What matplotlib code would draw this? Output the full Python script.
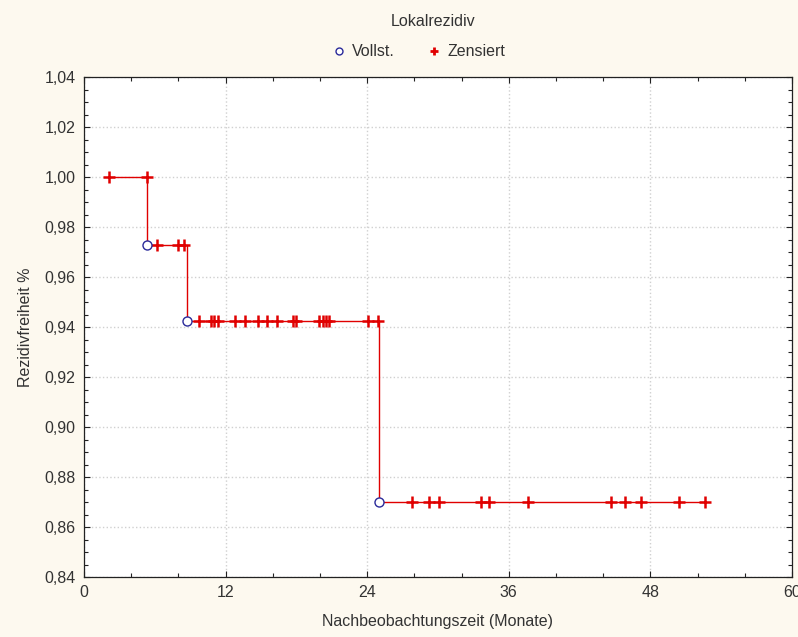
import numpy as np
import matplotlib
matplotlib.use('Agg')
import matplotlib.pyplot as plt
from matplotlib.lines import Line2D
from matplotlib.ticker import MultipleLocator, FuncFormatter

plt.rcParams['font.family'] = ['Liberation Sans', 'DejaVu Sans']

# Kaplan-Meier Stufen (Monate, Rezidivfreiheit)
step_times = [2.12, 5.36, 8.7, 25.0, 52.63]
step_surv = [1.0, 0.973, 0.9426, 0.870, 0.870]

# vollstaendige Beobachtungen (Ereignisse)
event_times = [5.36, 8.7, 25.0]
event_surv = [0.973, 0.9426, 0.870]

# zensierte Beobachtungen
cens_times = [2.12, 5.36,
              6.21, 7.94, 8.50,
              9.77, 10.76, 11.04, 11.33, 12.80, 13.64, 14.77, 15.48, 16.33,
              17.67, 17.97, 19.94, 20.23, 20.51, 20.79, 24.09, 24.89,
              27.77, 29.24, 30.11, 33.62, 34.35, 37.65, 44.64, 45.85, 47.2,
              50.45, 52.63]
cens_surv = [1.0, 1.0,
             0.973, 0.973, 0.973,
             0.9426, 0.9426, 0.9426, 0.9426, 0.9426, 0.9426, 0.9426, 0.9426, 0.9426,
             0.9426, 0.9426, 0.9426, 0.9426, 0.9426, 0.9426, 0.9426, 0.9426,
             0.870, 0.870, 0.870, 0.870, 0.870, 0.870, 0.870, 0.870, 0.870,
             0.870, 0.870]

red = '#e00000'
blue = '#2a2a9a'
bg = '#fdf9ef'

fig = plt.figure(figsize=(7.98, 6.37), dpi=100, facecolor=bg)
ax = fig.add_axes([84/798, 1-577/637, (792-84)/798, (577-77)/637])
ax.set_facecolor('white')

ax.step(step_times, step_surv, where='post', color=red, lw=1.0, zorder=3)
ax.plot(cens_times, cens_surv, '+', color=red, ms=9, mew=1.8, zorder=4, ls='none')
ax.plot(event_times, event_surv, 'o', mfc='white', mec=blue, ms=6.5, mew=1.0, zorder=5, ls='none')

ax.set_xlim(0, 60)
ax.set_ylim(0.84, 1.04)
ax.xaxis.set_major_locator(MultipleLocator(12))
ax.xaxis.set_minor_locator(MultipleLocator(4))
ax.yaxis.set_major_locator(MultipleLocator(0.02))
ax.yaxis.set_minor_locator(MultipleLocator(0.005))
ax.yaxis.set_major_formatter(FuncFormatter(lambda v, p: ('%.2f' % v).replace('.', ',')))
ax.tick_params(which='both', direction='in', top=True, right=True, labelsize=11.5,
               colors='#222222', labelcolor='#333333', width=0.8)
ax.tick_params(which='major', length=4, pad=6)
ax.tick_params(which='minor', length=3)
ax.grid(True, which='major', color='#d0d0d0', ls=':', lw=1.0)
for s in ax.spines.values():
    s.set_color('#222222')
    s.set_linewidth(0.9)

ax.set_xlabel('Nachbeobachtungszeit (Monate)', fontsize=11.5, color='#333333', labelpad=10)
ax.set_ylabel('Rezidivfreiheit %', fontsize=11.5, color='#333333', labelpad=8)

fig.text(433/798, 1-22/637, 'Lokalrezidiv', ha='center', va='center', fontsize=11.5, color='#333333')
handles = [Line2D([], [], ls='none', marker='o', mfc='white', mec=blue, ms=5, mew=1.0),
           Line2D([], [], ls='none', marker='+', color=red, ms=6, mew=2.0)]
fig.legend(handles, ['Vollst.', 'Zensiert'], ncol=2, frameon=False, loc='center',
           bbox_to_anchor=(418/798, 1-52/637), fontsize=11.5, handletextpad=0.3,
           columnspacing=2.0, handlelength=1.0, labelcolor='#333333')

fig.savefig('out.png', dpi=100, facecolor=bg)
